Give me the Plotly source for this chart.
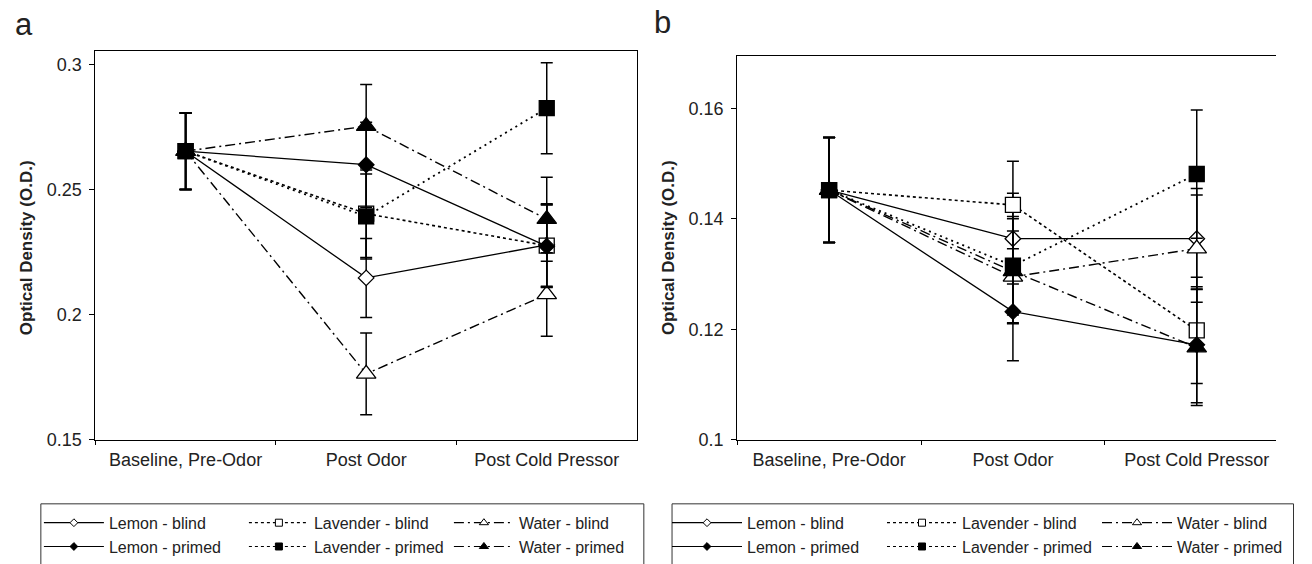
import plotly.graph_objects as go

W, H = 1312, 564
FONT = "Liberation Sans, Arial, sans-serif"

categories = ["Baseline, Pre-Odor", "Post Odor", "Post Cold Pressor"]

# ---------------- Panel a ----------------
a_lemon_blind = [0.2655, 0.2148, 0.2280]
a_lemon_blind_err = [0.0153, 0.0158, 0.0165]
a_lemon_primed = [0.2655, 0.2601, 0.2275]
a_lemon_primed_err = [0.0153, 0.0170, 0.0165]
a_lavender_blind = [0.2655, 0.2405, 0.2277]
a_lavender_blind_err = [0.0153, 0.0175, 0.0165]
a_lavender_primed = [0.2655, 0.2394, 0.2827]
a_lavender_primed_err = [0.0153, 0.0170, 0.0182]
a_water_blind = [0.2655, 0.1764, 0.2082]
a_water_blind_err = [0.0153, 0.0164, 0.0167]
a_water_primed = [0.2655, 0.2755, 0.2383]
a_water_primed_err = [0.0153, 0.0167, 0.0168]
a_yticks = [0.15, 0.2, 0.25, 0.3]
a_yticktext = ["0.15", "0.2", "0.25", "0.3"]

# ---------------- Panel b ----------------
b_lemon_blind = [0.1452, 0.1364, 0.1364]
b_lemon_blind_err = [0.0095, 0.0082, 0.0091]
b_lemon_primed = [0.1452, 0.1232, 0.1172]
b_lemon_primed_err = [0.0095, 0.0089, 0.0105]
b_lavender_blind = [0.1452, 0.1425, 0.1198]
b_lavender_blind_err = [0.0095, 0.0079, 0.0096]
b_lavender_primed = [0.1452, 0.1315, 0.1481]
b_lavender_primed_err = [0.0095, 0.0089, 0.0116]
b_water_blind = [0.1452, 0.1295, 0.1346]
b_water_blind_err = [0.0095, 0.0083, 0.0097]
b_water_primed = [0.1452, 0.1305, 0.1167]
b_water_primed_err = [0.0095, 0.0095, 0.0105]
b_yticks = [0.1, 0.12, 0.14, 0.16]
b_yticktext = ["0.1", "0.12", "0.14", "0.16"]

# legend order (column-wise groups: lemon, lavender, water)
series_names = ["Lemon - blind", "Lemon - primed", "Lavender - blind",
                "Lavender - primed", "Water - blind", "Water - primed"]
groups = ["lemon", "lemon", "lavender", "lavender", "water", "water"]
# drawing order of the series (blind series first, then primed)
draw_order = [0, 2, 4, 1, 3, 5]

panel_a = [(a_lemon_blind, a_lemon_blind_err), (a_lemon_primed, a_lemon_primed_err),
           (a_lavender_blind, a_lavender_blind_err), (a_lavender_primed, a_lavender_primed_err),
           (a_water_blind, a_water_blind_err), (a_water_primed, a_water_primed_err)]
panel_b = [(b_lemon_blind, b_lemon_blind_err), (b_lemon_primed, b_lemon_primed_err),
           (b_lavender_blind, b_lavender_blind_err), (b_lavender_primed, b_lavender_primed_err),
           (b_water_blind, b_water_blind_err), (b_water_primed, b_water_primed_err)]

STY = {
    "Lemon - blind":     dict(symbol="diamond", fill="white", dash="solid", size=12, lsize=6, lw=1.3),
    "Lemon - primed":    dict(symbol="diamond", fill="black", dash="solid", size=12, lsize=6, lw=1.3),
    "Lavender - blind":  dict(symbol="square", fill="white", dash="3px,3px", size=15, lsize=7, lw=1.6),
    "Lavender - primed": dict(symbol="square", fill="black", dash="2px,4px", size=15, lsize=7, lw=1.8),
    "Water - blind":     dict(symbol="triangle-up", fill="white", dash="10px,4px,2px,4px", size=17, lsize=8, lw=1.4),
    "Water - primed":    dict(symbol="triangle-up", fill="black", dash="10px,4px,2px,4px", size=17, lsize=8, lw=1.4),
}

fig = go.Figure()


def add_panel(data, xa, ya, legend_name, prefix):
    for i in draw_order:
        name = series_names[i]
        vals, errs = data[i]
        s = STY[name]
        fig.add_trace(go.Scatter(
            x=categories, y=vals, mode="lines+markers", name=name,
            xaxis=xa, yaxis=ya, showlegend=False,
            line=dict(color="black", width=s["lw"], dash=s["dash"]),
            marker=dict(symbol=s["symbol"], size=s["size"], color=s["fill"],
                        line=dict(color="black", width=1.3)),
            error_y=dict(type="data", array=errs, visible=True, color="black",
                         thickness=1.5, width=6),
            hoverinfo="skip",
        ))
    # legend entries (smaller symbols, like the original legend)
    for name, grp in zip(series_names, groups):
        s = STY[name]
        fig.add_trace(go.Scatter(
            x=[None], y=[None], mode="lines+markers", name=name,
            xaxis=xa, yaxis=ya, legend=legend_name,
            legendgroup=prefix + grp, showlegend=True,
            line=dict(color="black", width=1.2,
                      dash=s["dash"] if "Lavender" not in name else "3px,3px"),
            marker=dict(symbol=s["symbol"], size=s["lsize"], color=s["fill"],
                        line=dict(color="black", width=1)),
        ))


add_panel(panel_a, "x", "y", "legend", "a_")
add_panel(panel_b, "x2", "y2", "legend2", "b_")

plot_bottom = 447
a_top, b_top = 52, 57
a_left, a_right = 98, 655
b_left = 758
a_yrange = [0.15, 0.3 + (66 - a_top) / 127.0 * 0.05]
b_yrange = [0.1, 0.16 + (110 - b_top) / 112.33 * 0.02]
b_xmax = (W - b_left) / 189.0 - 0.5

axis_common = dict(showgrid=False, zeroline=False, showline=True, linecolor="black",
                   linewidth=1, ticks="outside", tickcolor="black", tickwidth=1,
                   tickfont=dict(family=FONT, size=18, color="#222"))

LEG_TOP = 512

fig.update_layout(
    width=W, height=H, margin=dict(l=0, r=0, t=0, b=0),
    paper_bgcolor="white", plot_bgcolor="white",
    font=dict(family=FONT, color="#222"),
    xaxis=dict(axis_common, domain=[a_left / W, a_right / W], type="category",
               categoryorder="array", categoryarray=categories,
               range=[-0.5, 2.5], tickson="boundaries", ticklen=4, mirror=True,
               anchor="y", ticklabelstandoff=4),
    yaxis=dict(axis_common, domain=[1 - plot_bottom / H, 1 - a_top / H], range=a_yrange,
               tickvals=a_yticks, ticktext=a_yticktext, ticklen=5, mirror=True,
               anchor="x", ticklabelstandoff=4),
    xaxis2=dict(axis_common, domain=[b_left / W, 1.0], type="category",
                categoryorder="array", categoryarray=categories,
                range=[-0.5, b_xmax], tickson="boundaries", ticklen=4, mirror=True,
                anchor="y2", ticklabelstandoff=4),
    yaxis2=dict(axis_common, domain=[1 - plot_bottom / H, 1 - b_top / H], range=b_yrange,
                tickvals=b_yticks, ticktext=b_yticktext, ticklen=5, mirror=False,
                anchor="x2", ticklabelstandoff=4),
    legend=dict(x=40 / W, xanchor="left", y=1 - (LEG_TOP + 2) / H, yanchor="top",
                orientation="h", traceorder="grouped", itemwidth=60, entrywidth=130,
                font=dict(family=FONT, size=16, color="#222"), borderwidth=0,
                bgcolor="rgba(0,0,0,0)", tracegroupgap=0),
    legend2=dict(x=686 / W, xanchor="left", y=1 - (LEG_TOP + 2) / H, yanchor="top",
                 orientation="h", traceorder="grouped", itemwidth=70, entrywidth=130,
                 font=dict(family=FONT, size=16, color="#222"), borderwidth=0,
                 bgcolor="rgba(0,0,0,0)", tracegroupgap=0),
    showlegend=True,
)

# legend frames (open at the bottom, as cropped in the original)
for x0, x1 in [(42, 662), (691, 1330)]:
    fig.add_shape(type="rect", xref="paper", yref="paper",
                  x0=x0 / W, x1=x1 / W, y0=1 - LEG_TOP / H, y1=-0.1,
                  line=dict(color="#333", width=1), fillcolor="rgba(0,0,0,0)")

# y-axis titles and panel letters
for xpix in (28, 688):
    fig.add_annotation(x=xpix / W, y=1 - 252 / H, xref="paper", yref="paper",
                       xanchor="center", yanchor="middle",
                       text="<b>Optical Density (O.D.)</b>", textangle=-90, showarrow=False,
                       font=dict(family=FONT, size=17, color="#222"))
fig.add_annotation(x=25 / W, y=1 - 25 / H, xref="paper", yref="paper", text="a",
                   xanchor="center", yanchor="middle",
                   showarrow=False, font=dict(family=FONT, size=31, color="#222"))
fig.add_annotation(x=681 / W, y=1 - 23 / H, xref="paper", yref="paper", text="b",
                   xanchor="center", yanchor="middle",
                   showarrow=False, font=dict(family=FONT, size=31, color="#222"))

fig.write_html("out.html")
